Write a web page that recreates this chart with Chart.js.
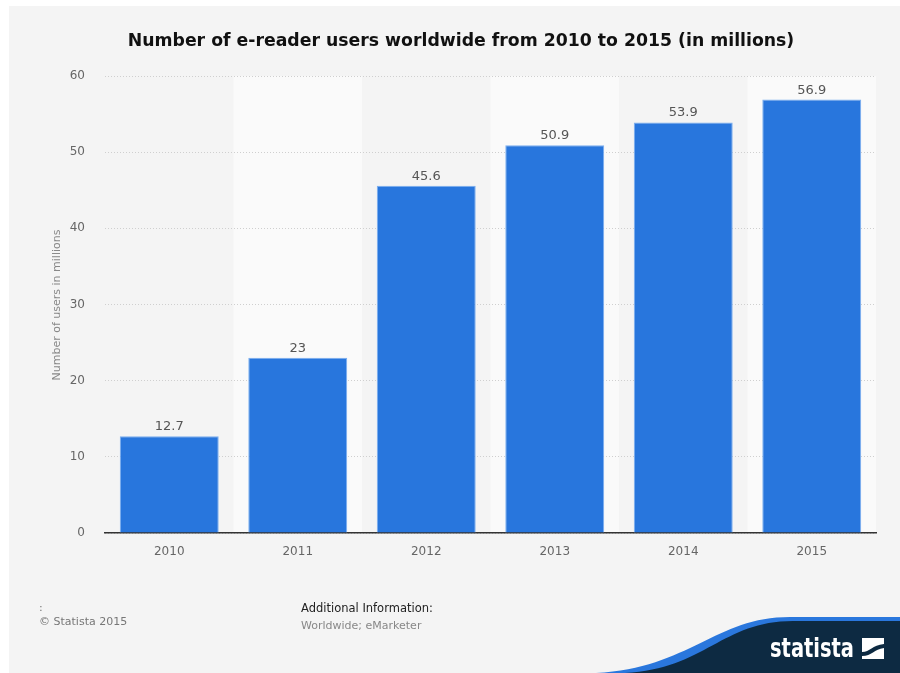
<!DOCTYPE html>
<html>
<head>
<meta charset="utf-8">
<script src="https://cdn.jsdelivr.net/npm/chart.js@4/dist/chart.umd.min.js"></script>
<style>
  html, body { margin: 0; padding: 0; background: #fff; }
  #wrap { width: 900px; height: 673px; }
</style>
</head>
<body>
<div id="wrap"><canvas id="myChart" width="900" height="673"></canvas></div>
<script>
// data
var years = ["2010", "2011", "2012", "2013", "2014", "2015"];
var users = [12.7, 23, 45.6, 50.9, 53.9, 56.9];
var valueLabels = ["12.7", "23", "45.6", "50.9", "53.9", "56.9"];
var yTicks = [0, 10, 20, 30, 40, 50, 60];

var chartTitle = "Number of e-reader users worldwide from 2010 to 2015 (in millions)";
var yTitle = "Number of users in millions";

var FONT = "'DejaVu Sans', sans-serif";

// panel, column bands, title, footer and logo
var decor = {
  id: "decor",
  beforeDraw: function (chart) {
    var ctx = chart.ctx;
    ctx.save();
    ctx.fillStyle = "#ffffff";
    ctx.fillRect(0, 0, 900, 673);
    ctx.fillStyle = "#f4f4f4";
    ctx.fillRect(9, 6, 891, 667);

    // lighter bands behind every other category
    var xs = chart.scales.x;
    var area = chart.chartArea;
    var step = (area.right - area.left) / years.length;
    ctx.fillStyle = "#fafafa";
    years.forEach(function (y, i) {
      if (i % 2 === 1) {
        var cx = xs.getPixelForValue(i);
        ctx.fillRect(cx - step / 2, area.top, step, area.bottom - area.top);
      }
    });

    // title
    ctx.fillStyle = "#111";
    ctx.font = "bold 17.3px " + FONT;
    ctx.textAlign = "center";
    ctx.textBaseline = "middle";
    ctx.fillText(chartTitle, 461, 42);

    // y axis title
    ctx.save();
    ctx.translate(57, 305);
    ctx.rotate(-Math.PI / 2);
    ctx.fillStyle = "#888";
    ctx.font = "11px " + FONT;
    ctx.fillText(yTitle, 0, 0);
    ctx.restore();

    // footer
    ctx.textAlign = "left";
    ctx.textBaseline = "alphabetic";
    ctx.font = "11px " + FONT;
    ctx.fillStyle = "#777";
    ctx.fillText(":", 39, 611);
    ctx.fillText("\u00a9 Statista 2015", 39, 625);
    ctx.fillStyle = "#222";
    ctx.font = "11.5px " + FONT;
    ctx.fillText("Additional Information:", 301, 612);
    ctx.fillStyle = "#888";
    ctx.font = "11px " + FONT;
    ctx.fillText("Worldwide; eMarketer", 301, 629);

    // statista banner
    ctx.fillStyle = "#2a77dd";
    ctx.beginPath();
    ctx.moveTo(596, 673);
    ctx.bezierCurveTo(690, 668, 715, 617, 790, 617);
    ctx.lineTo(900, 617);
    ctx.lineTo(900, 673);
    ctx.closePath();
    ctx.fill();
    ctx.fillStyle = "#0d2a42";
    ctx.beginPath();
    ctx.moveTo(625, 673);
    ctx.bezierCurveTo(705, 669, 722, 621, 793, 621);
    ctx.lineTo(900, 621);
    ctx.lineTo(900, 673);
    ctx.closePath();
    ctx.fill();

    // logo word, squeezed to the width seen in the reference
    ctx.fillStyle = "#ffffff";
    ctx.font = "bold 27px " + FONT;
    var w = ctx.measureText("statista").width;
    ctx.save();
    ctx.translate(770, 657);
    ctx.scale(84 / w, 1);
    ctx.fillText("statista", 0, 0);
    ctx.restore();

    // logo icon
    ctx.fillRect(862, 638, 22, 21);
    ctx.fillStyle = "#0d2a42";
    ctx.beginPath();
    ctx.moveTo(862, 652);
    ctx.bezierCurveTo(870, 652, 872, 645, 884, 644);
    ctx.lineTo(884, 648);
    ctx.bezierCurveTo(874, 649, 872, 656, 862, 656);
    ctx.closePath();
    ctx.fill();
    ctx.restore();
  },
  afterDatasetsDraw: function (chart) {
    var ctx = chart.ctx;
    var meta = chart.getDatasetMeta(0);
    ctx.save();
    ctx.fillStyle = "#555";
    ctx.font = "13px " + FONT;
    ctx.textAlign = "center";
    ctx.textBaseline = "alphabetic";
    meta.data.forEach(function (bar, i) {
      ctx.fillText(valueLabels[i], bar.x, bar.y - 6);
    });
    ctx.restore();
  }
};

var ctx = document.getElementById("myChart").getContext("2d");
var myChart = new Chart(ctx, {
  type: "bar",
  data: {
    labels: years,
    datasets: [
      {
        label: "users",
        data: users,
        backgroundColor: "#2876dd",
        borderColor: "#7aaef0",
        borderWidth: 1,
        barPercentage: 0.77,
        categoryPercentage: 1
      }
    ]
  },
  options: {
    responsive: false,
    animation: false,
    devicePixelRatio: 1,
    layout: { padding: { left: 9, top: 76, right: 24, bottom: 100 } },
    plugins: {
      legend: { display: false },
      title: { display: false },
      tooltip: { enabled: false }
    },
    scales: {
      x: {
        afterFit: function (s) { s.height = 40; },
        grid: { display: false, drawTicks: false },
        border: { display: true, color: "#333", width: 1.5 },
        ticks: { color: "#666", font: { family: FONT, size: 12 }, padding: 12 }
      },
      y: {
        min: 0,
        max: 60,
        afterFit: function (s) { s.width = 96; },
        afterBuildTicks: function (s) {
          s.ticks = yTicks.map(function (v) { return { value: v }; });
        },
        grid: { color: "#cfcfcf", drawTicks: false, lineWidth: 1 },
        border: { display: false, dash: [1, 2] },
        ticks: { color: "#666", font: { family: FONT, size: 12 }, padding: 20 }
      }
    }
  },
  plugins: [decor]
});
</script>
</body>
</html>
